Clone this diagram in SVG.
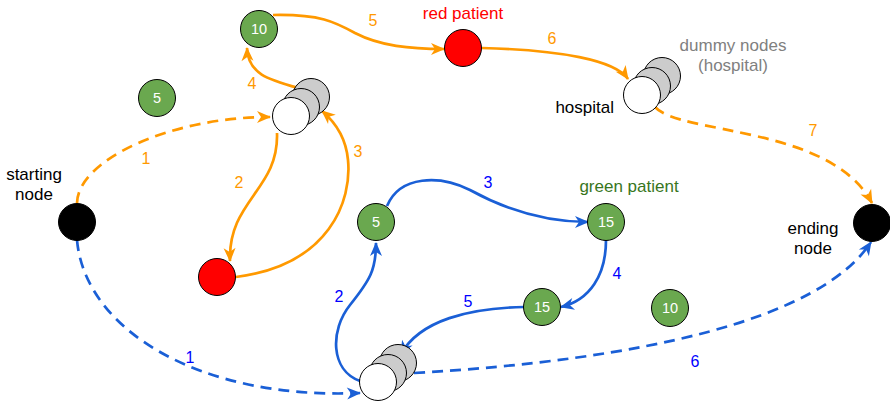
<svg xmlns="http://www.w3.org/2000/svg" width="890" height="405" viewBox="0 0 890 405">
<style>
text{font-family:"Liberation Sans",Arial,sans-serif;}
.lbl{font-size:17px;text-anchor:middle;}
.num{font-size:14.5px;fill:#fff;text-anchor:middle;}
.el{font-size:16px;text-anchor:middle;}
.eo{fill:#ff9900;}
.eb{fill:#0000ff;}
.o{fill:none;stroke:#ff9900;stroke-width:2.7;marker-end:url(#ao);}
.b{fill:none;stroke:#1a5fd6;stroke-width:2.7;marker-end:url(#ab);}
.d{stroke-dasharray:11 7;}
.g{fill:#6aa84f;stroke:#000;stroke-width:1;}
.r{fill:#ff0000;stroke:#000;stroke-width:1;}
.k{fill:#000;stroke:#000;stroke-width:1;}
.w{fill:#fff;stroke:#000;stroke-width:1;}
.gr{fill:#cccccc;stroke:#000;stroke-width:1;}
</style>
<defs>
<marker id="ao" markerUnits="userSpaceOnUse" markerWidth="16" markerHeight="14" refX="13" refY="6" orient="auto" overflow="visible">
<path d="M0,0 L14,6 L0,12 L4,6 Z" fill="#ff9900"/>
</marker>
<marker id="ab" markerUnits="userSpaceOnUse" markerWidth="16" markerHeight="14" refX="13" refY="6" orient="auto" overflow="visible">
<path d="M0,0 L14,6 L0,12 L4,6 Z" fill="#1a5fd6"/>
</marker>
</defs>

<g id="connectors">
<path class="o d" d="M77,203 C78,160 170,117 270,117"/>
<path class="o" d="M277,133 C279,190 228,200 230,261"/>
<path class="o" d="M236,277 C330,265 352,200 348,160 C346,138 335,122 322,111"/>
<path class="o" d="M302,89 C270,80 248,75 247,48"/>
<path class="o" d="M273,15 C320,14 335,22 355,33 C380,46 410,49 444,49"/>
<path class="o" d="M482,48 C560,50 615,60 628,79"/>
<path class="o d" d="M655,107 C680,135 830,125 872,203"/>
<path class="b d" d="M77,240 C85,330 200,400 360,393"/>
<path class="b" d="M360,381 C330,370 330,330 350,305 C370,280 376,270 376,243"/>
<path class="b" d="M387,206 C400,175 440,175 470,190 C510,212 550,222 588,222"/>
<path class="b" d="M606,240 C606,275 590,300 561,307"/>
<path class="b" d="M524,307 C470,308 420,320 401,354"/>
<path class="b d" d="M414,373 C640,360 820,320 871,242"/>
<text class="el eo" x="146" y="164">1</text>
<text class="el eo" x="239" y="188">2</text>
<text class="el eo" x="358" y="157">3</text>
<text class="el eo" x="252" y="89">4</text>
<text class="el eo" x="373" y="26">5</text>
<text class="el eo" x="552" y="44">6</text>
<text class="el eo" x="813" y="136">7</text>
<text class="el eb" x="190" y="363">1</text>
<text class="el eb" x="339" y="302">2</text>
<text class="el eb" x="488" y="188">3</text>
<text class="el eb" x="617" y="279">4</text>
<text class="el eb" x="468" y="307">5</text>
<text class="el eb" x="695" y="367">6</text>
</g>

<g id="start">
<circle class="k" cx="77" cy="222" r="18.5"/>
<text class="lbl" x="34" y="180" fill="#000">starting</text>
<text class="lbl" x="34" y="200" fill="#000">node</text>
</g>
<g id="end">
<circle class="k" cx="872" cy="223" r="18.5"/>
<text class="lbl" x="813" y="234" fill="#000">ending</text>
<text class="lbl" x="813" y="254" fill="#000">node</text>
</g>
<g id="g5a"><circle class="g" cx="157" cy="98" r="18.5"/><text class="num" x="157" y="103">5</text></g>
<g id="g10a"><circle class="g" cx="259" cy="29" r="18.5"/><text class="num" x="259" y="34">10</text></g>
<g id="redA"><circle class="r" cx="217" cy="277" r="18.5"/></g>
<g id="redPatient">
<circle class="r" cx="463" cy="48" r="18.5"/>
<text class="lbl" x="463" y="19" fill="#ff0000">red patient</text>
</g>
<g id="stackA">
<circle class="gr" cx="311" cy="97" r="18.5"/>
<circle class="gr" cx="301" cy="107" r="18.5"/>
<circle class="w" cx="291" cy="116" r="18.5"/>
</g>
<g id="hospital">
<circle class="gr" cx="662" cy="76" r="18.5"/>
<circle class="gr" cx="652" cy="86" r="18.5"/>
<circle class="w" cx="642" cy="95" r="18.5"/>
<text class="lbl" x="614" y="113" style="text-anchor:end" fill="#000">hospital</text>
<text class="lbl" x="733" y="51" fill="#808080">dummy nodes</text>
<text class="lbl" x="733" y="71" fill="#808080">(hospital)</text>
</g>
<g id="g5b"><circle class="g" cx="376" cy="222" r="18.5"/><text class="num" x="376" y="227">5</text></g>
<g id="g15a">
<circle class="g" cx="606" cy="222" r="18.5"/><text class="num" x="606" y="227">15</text>
<text class="lbl" x="629" y="192" fill="#38761d">green patient</text>
</g>
<g id="g15b"><circle class="g" cx="542" cy="307" r="18.5"/><text class="num" x="542" y="312">15</text></g>
<g id="g10b"><circle class="g" cx="670" cy="308" r="18.5"/><text class="num" x="670" y="313">10</text></g>
<g id="stackB">
<circle class="gr" cx="398" cy="363" r="18.5"/>
<circle class="gr" cx="388" cy="373" r="18.5"/>
<circle class="w" cx="378" cy="382" r="18.5"/>
</g>
</svg>
